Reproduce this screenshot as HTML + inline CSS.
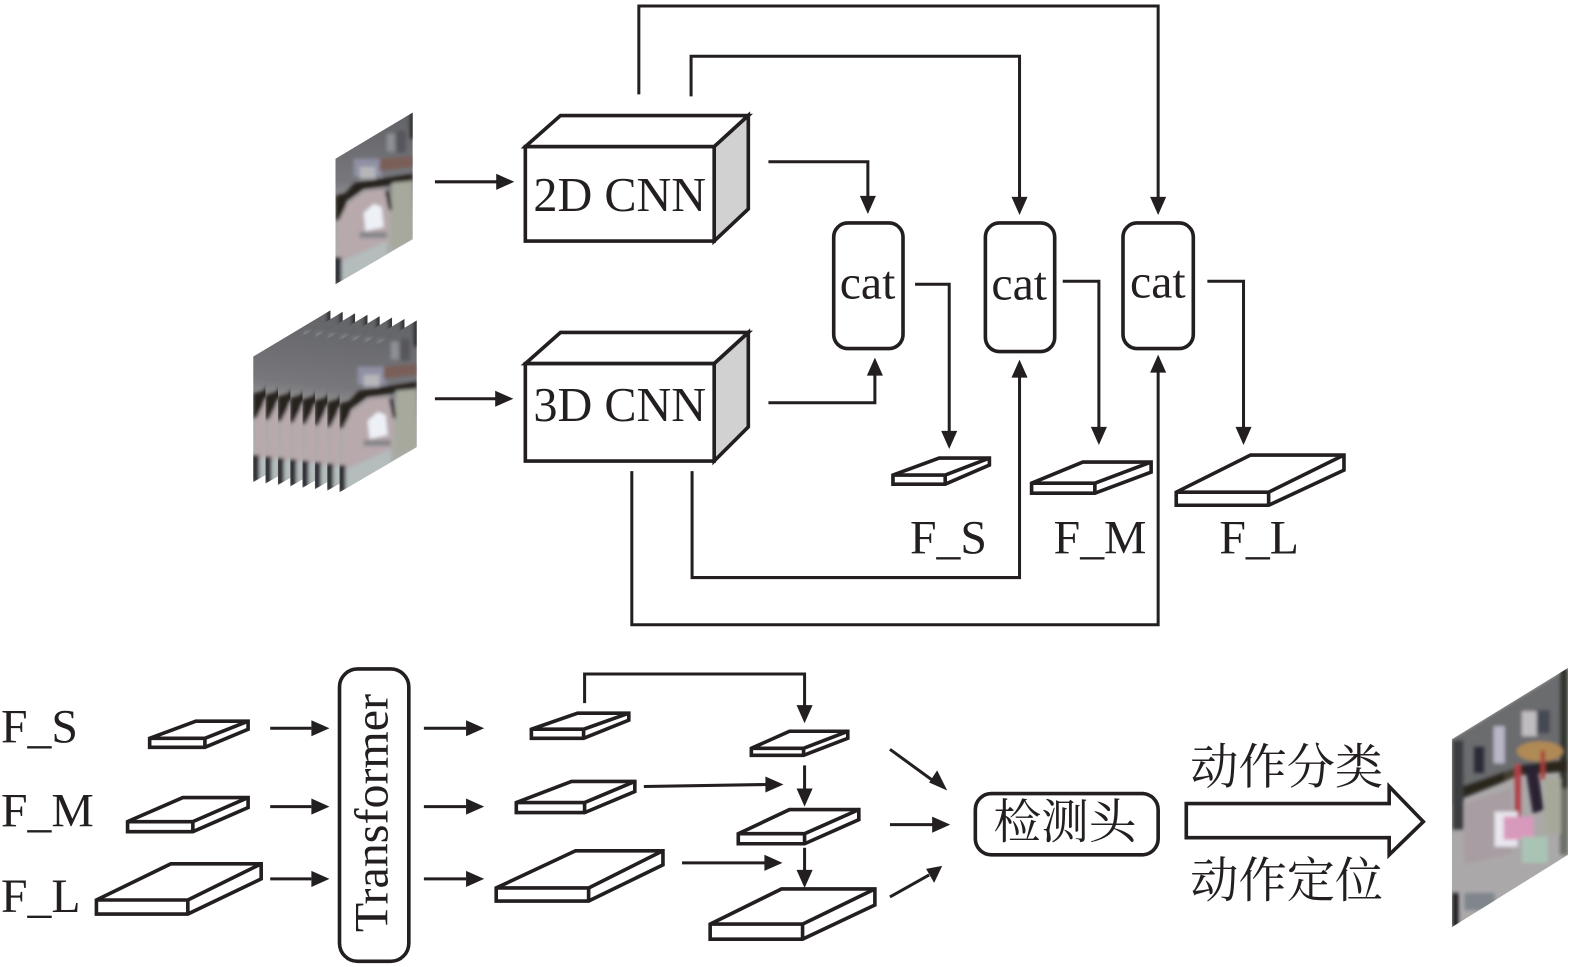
<!DOCTYPE html>
<html lang="zh">
<head>
<meta charset="utf-8">
<title>Diagram</title>
<style>
html,body{margin:0;padding:0;background:#fff}
svg{display:block}
text{font-family:"Liberation Serif","Noto Serif CJK SC",serif;fill:#231f20}
.l{fill:none;stroke:#231f20;stroke-width:3;stroke-linejoin:miter}
.b{fill:#fff;stroke:#231f20;stroke-width:3.6;stroke-linejoin:miter}
.h{fill:#231f20;stroke:none}
</style>
</head>
<body>
<svg xmlns="http://www.w3.org/2000/svg" width="1575" height="967" viewBox="0 0 1568 962.7">
<defs>
<clipPath id="c1"><polygon points="334,158 411,112 411,238 334,283"/></clipPath>
<clipPath id="c2"><polygon points="1445.5,736 1561,665 1561,851 1445.5,923"/></clipPath>
<filter id="bl" x="-10%" y="-10%" width="120%" height="120%"><feGaussianBlur stdDeviation="1.8"/></filter>
<filter id="bl2" x="-10%" y="-10%" width="120%" height="120%"><feGaussianBlur stdDeviation="3"/></filter>
<linearGradient id="g1" x1="0" y1="0" x2="0" y2="1"><stop offset="0" stop-color="#626367"/><stop offset=".4" stop-color="#77777c"/><stop offset=".6" stop-color="#a9a8a4"/><stop offset="1" stop-color="#aeb2ae"/></linearGradient>
<g id="eye" clip-path="url(#c1)">
<rect x="334" y="112" width="77" height="171" fill="url(#g1)"/>
<g filter="url(#bl)">
<rect x="385" y="133" width="8" height="18" fill="#8e8f96"/>
<rect x="395" y="130" width="9" height="22" fill="#55565b"/>
<rect x="352" y="158" width="28" height="18" fill="#8f90a4"/>
<rect x="358" y="166" width="16" height="12" fill="#b5b5ba"/>
<polygon points="378,158 411,155 411,166 378,170" fill="#7a5f58"/>
<polygon points="334,195 344,192 353,182 411,173 411,181 362,188 345,200 342,218 334,220" fill="#25211d"/>
<polygon points="336,222 345,204 362,190 384,188 388,215 386,240 350,256 336,262" fill="#b7a9ac"/>
<polygon points="362,212 372,203 380,206 382,226 364,230" fill="#eef0f8"/>
<polygon points="383,190 387,190 391,209 387,209" fill="#2b2a30"/>
<polygon points="390,182 411,180 411,238 390,248" fill="#a6a99c"/>
<rect x="358" y="231" width="27" height="6" fill="#87878a"/>
<polygon points="336,262 385,240 385,258 336,283" fill="#b4bcbc"/>
<rect x="333" y="256" width="7" height="27" fill="#2c2a30"/>
<rect x="408" y="110" width="4" height="28" fill="#2a2a2c"/>
</g>
</g>
<g id="out" clip-path="url(#c2)">
<rect x="1445" y="665" width="116" height="260" fill="#aba8a9"/>
<g filter="url(#bl)">
<polygon points="1445,736 1561,665 1561,752 1445,800" fill="#6a6c6e"/>
<rect x="1553" y="665" width="8" height="120" fill="#33352f"/>
<rect x="1553" y="785" width="8" height="66" fill="#6d7068"/>
<rect x="1487" y="723" width="11" height="37" fill="#b8b6c8"/>
<rect x="1467" y="743" width="11" height="27" fill="#2a2c38"/>
<rect x="1515" y="708" width="15" height="25" fill="#c0bcc0"/>
<rect x="1530" y="707" width="13" height="23" fill="#454a52"/>
<ellipse cx="1533" cy="748" rx="23" ry="10" fill="#b08a55"/>
<polygon points="1455,783 1498,768 1498,778 1455,795" fill="#2b281e"/>
<polygon points="1508,762 1561,756 1561,768 1508,772" fill="#2b281e"/>
<polygon points="1498,768 1510,764 1510,772 1498,778" fill="#453f30"/>
<rect x="1446" y="737" width="11" height="89" fill="#3b3e41"/>
<polygon points="1458,800 1505,785 1505,850 1458,860" fill="#a89da2"/>
<rect x="1538" y="775" width="16" height="55" fill="#a6a99a"/>
<rect x="1508" y="761" width="6" height="72" fill="#b0404a"/>
<rect x="1534" y="747" width="4" height="29" fill="#a83c3a"/>
<polygon points="1518,761 1530,761 1537,806 1526,810" fill="#2a2030"/>
<rect x="1488" y="808" width="23" height="35" fill="#e8e6ee"/>
<rect x="1497" y="813" width="30" height="23" fill="#d89abc"/>
<rect x="1515" y="833" width="26" height="26" fill="#a9c4b4"/>
<rect x="1458" y="889" width="30" height="17" fill="#7f868c"/>
<rect x="1446" y="889" width="6" height="34" fill="#1f1f20"/>
</g>
</g>
</defs>

<!-- input images -->
<use href="#eye"/>
<use href="#eye" transform="translate(-82,197)"/>
<use href="#eye" transform="translate(-69.7,198.4)"/>
<use href="#eye" transform="translate(-57.4,199.9)"/>
<use href="#eye" transform="translate(-45.1,201.3)"/>
<use href="#eye" transform="translate(-32.9,202.7)"/>
<use href="#eye" transform="translate(-20.6,204.1)"/>
<use href="#eye" transform="translate(-8.3,205.6)"/>
<use href="#eye" transform="translate(4,207)"/>
<use href="#out"/>

<!-- CNN boxes -->
<g class="b">
<polygon points="523,146 558,115 745,115 711,146"/>
<polygon points="711,146 745,115 745,208 711,240" style="fill:#d1d1d1"/>
<rect x="523" y="146" width="188" height="94"/>
<polygon points="523,362 558,331 745,331 711,362"/>
<polygon points="711,362 745,331 745,425 711,459" style="fill:#d1d1d1"/>
<rect x="523" y="362" width="188" height="97"/>
</g>
<text x="531" y="210" font-size="48">2D CNN</text>
<text x="531" y="419" font-size="48">3D CNN</text>

<!-- connectors upper -->
<g class="l">
<path d="M636 94V6H1153V200"/>
<path d="M688 96V56H1015V200"/>
<path d="M765 161H864V198"/>
<path d="M433 181H495"/>
<path d="M433 397H495"/>
<path d="M765 401H871V372"/>
<path d="M689 469V575H1015V372"/>
<path d="M629 469V622H1153V368"/>
<path d="M911 283H945V432"/>
<path d="M1058 280H1094V428"/>
<path d="M1202 280H1238V428"/>
</g>
<g class="h">
<polygon points="1145,196 1161,196 1153,214"/>
<polygon points="1007,196 1023,196 1015,214"/>
<polygon points="856,195 872,195 864,213"/>
<polygon points="494,173 494,189 512,181"/>
<polygon points="493,389 493,405 511,397"/>
<polygon points="863,374 879,374 871,356"/>
<polygon points="1007,376 1023,376 1015,358"/>
<polygon points="1145,371 1161,371 1153,353"/>
<polygon points="937,429 953,429 945,447"/>
<polygon points="1086,425 1102,425 1094,443"/>
<polygon points="1230,425 1246,425 1238,443"/>
</g>

<!-- cat -->
<g class="b">
<rect x="830" y="222" width="69" height="125" rx="14"/>
<rect x="981" y="222" width="69" height="128" rx="14"/>
<rect x="1118" y="222" width="70" height="125" rx="14"/>
</g>
<text x="836" y="297" font-size="47.5">cat</text>
<text x="987" y="298" font-size="47.5">cat</text>
<text x="1125" y="296" font-size="47.5">cat</text>

<!-- slabs upper -->
<g class="b">
<polygon points="889,473 935,456 985,456 985,463 941,482 889,482"/>
<path d="M889 473H941V482M941 473L985 456" style="fill:none"/>
<polygon points="1027,481 1078,460 1146,460 1146,470 1090,491 1027,491"/>
<path d="M1027 481H1090V491M1090 481L1146 460" style="fill:none"/>
<polygon points="1171,490 1245,453 1338,453 1338,468 1263,503 1171,503"/>
<path d="M1171 490H1263V503M1263 490L1338 453" style="fill:none"/>
</g>
<text x="906" y="551" font-size="47.5">F_S</text>
<text x="1049" y="551" font-size="47.5">F_M</text>
<text x="1214" y="551" font-size="47.5">F_L</text>

<!-- lower labels -->
<text x="1" y="739" font-size="47.5">F_S</text>
<text x="1" y="823" font-size="47.5">F_M</text>
<text x="1" y="908" font-size="47.5">F_L</text>

<!-- slabs lower -->
<g class="b">
<polygon points="149,735 195,718 247,718 247,726 204,744 149,744"/>
<path d="M149 735H204V744M204 735L247 718" style="fill:none"/>
<polygon points="127,818 182,794 247,794 247,804 192,828 127,828"/>
<path d="M127 818H192V828M192 818L247 794" style="fill:none"/>
<polygon points="96,896 170,860 260,860 260,875 187,910 96,910"/>
<path d="M96 896H187V910M187 896L260 860" style="fill:none"/>
<polygon points="529,726 575,710 626,710 626,717 581,735 529,735"/>
<path d="M529 726H581V735M581 726L626 710" style="fill:none"/>
<polygon points="514,799 569,778 632,778 632,788 582,809 514,809"/>
<path d="M514 799H582V809M582 799L632 778" style="fill:none"/>
<polygon points="494,884 573,847 660,847 660,861 586,897 494,897"/>
<path d="M494 884H586V897M586 884L660 847" style="fill:none"/>
<polygon points="748,745 786,728 844,728 844,735 800,752 748,752"/>
<path d="M748 745H800V752M800 745L844 728" style="fill:none"/>
<polygon points="735,830 786,806 855,806 855,816 801,840 735,840"/>
<path d="M735 830H801V840M801 830L855 806" style="fill:none"/>
<polygon points="707,920 778,885 871,885 871,901 799,935 707,935"/>
<path d="M707 920H799V935M799 920L871 885" style="fill:none"/>
</g>

<!-- Transformer -->
<rect class="b" x="338" y="666" width="69" height="291" rx="18"/>
<text transform="translate(386,928) rotate(-90)" font-size="47.8">Transformer</text>

<!-- connectors lower -->
<g class="l">
<path d="M269 725H310M269 803H310M269 875H310"/>
<path d="M422 725H464M422 803H464M422 875H464"/>
<path d="M582 700V671H801V703"/>
<path d="M641 783L764 781"/>
<path d="M679 859H762"/>
<path d="M801 762V788"/>
<path d="M801 844V870"/>
<path d="M886 746L930 778"/>
<path d="M886 821H930"/>
<path d="M886 893L925 871"/>
</g>
<g class="h">
<polygon points="310,717 310,733 328,725"/>
<polygon points="310,795 310,811 328,803"/>
<polygon points="310,867 310,883 328,875"/>
<polygon points="464,717 464,733 482,725"/>
<polygon points="464,795 464,811 482,803"/>
<polygon points="464,867 464,883 482,875"/>
<polygon points="793,702 809,702 801,720"/>
<polygon points="762,773 762,789 780,781"/>
<polygon points="761,851 761,867 779,859"/>
<polygon points="793,785 809,785 801,803"/>
<polygon points="793,866 809,866 801,884"/>
<polygon points="933,767 925,779 943,787"/>
<polygon points="928,813 928,829 946,821"/>
<polygon points="922,865 930,879 938,862"/>
</g>

<!-- detection head -->
<rect class="b" x="971" y="790" width="182" height="61" rx="16"/>
<text x="989" y="835" font-size="47.5">检测头</text>
<text x="1185" y="780" font-size="48">动作分类</text>
<text x="1185" y="893" font-size="48">动作定位</text>
<polygon class="b" points="1181,800 1383,800 1383,783 1417,818 1383,851 1383,834 1181,834"/>
</svg>
</body>
</html>
